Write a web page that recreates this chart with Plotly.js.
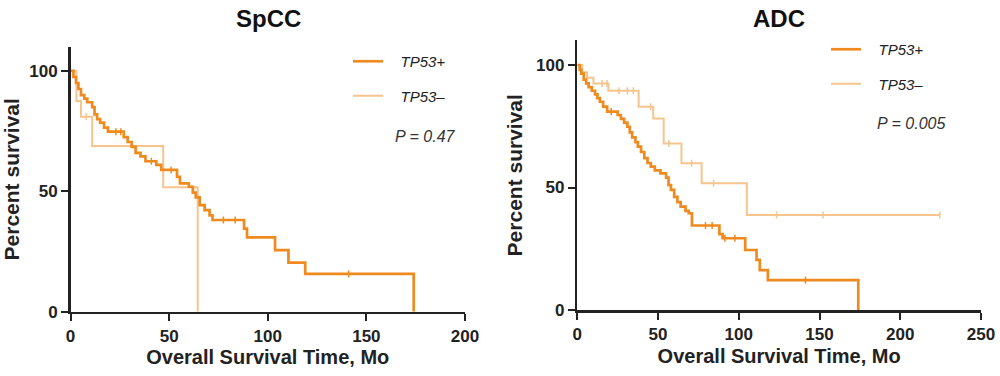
<!DOCTYPE html>
<html>
<head>
<meta charset="utf-8">
<script src="https://cdn.plot.ly/plotly-3.0.1.min.js"></script>
<style>html,body{margin:0;padding:0;background:#fff;}#chart{width:1000px;height:376px;}</style>
</head>
<body>
<div id="chart"></div>
<script>
// ---------- Data ----------
// SpCC, TP53+ : Kaplan-Meier step times (months) and survival (%)
var spccPosTime = [0, 1.5, 2.8, 4, 5.3, 7, 8.5, 11, 12.2, 13.5, 15, 17, 19, 27, 29, 31, 33, 35.5, 38, 43.5, 46, 54, 55.5, 60, 62, 63.5, 65.5, 68, 70.5, 72, 88, 89.5, 103.7, 110.5, 119, 174];
var spccPosSurv = [100, 97.5, 95, 92.5, 90, 88.5, 87, 85, 82, 80, 78.5, 76.5, 74.8, 72.5, 70.5, 68.5, 66, 64.5, 62.5, 61, 58.9, 56, 53.3, 51.9, 49.5, 47.5, 44.3, 42.2, 40, 38.1, 34.5, 30.9, 25.6, 20.4, 15.7, 0];
var spccPosCensTime = [23, 25.5, 41, 51, 77.5, 83.5, 141];
var spccPosCensSurv = [74.8, 74.8, 62.5, 58.9, 38.1, 38.1, 15.7];

// SpCC, TP53-
var spccNegTime = [0, 3, 5.3, 11, 47, 64.5];
var spccNegSurv = [100, 87.5, 81, 68.8, 51.7, 0];
var spccNegCensTime = [8];
var spccNegCensSurv = [81];

// ADC, TP53+
var adcPosTime = [0, 1.5, 2.5, 4, 5.5, 7, 9, 11, 12.5, 14, 16, 18.5, 25, 27, 29, 31, 32.5, 34, 36, 37.5, 39.5, 41.5, 43.5, 45.5, 48, 51.5, 55, 56.5, 58, 60, 62, 64, 67, 69, 71, 88, 90, 104, 111, 113, 118, 174];
var adcPosSurv = [100, 98, 96.5, 94, 92.5, 91, 89.5, 88, 86.5, 85, 83, 81, 79.6, 78, 76.5, 74.8, 72.5, 70.5, 68.5, 66.7, 64.5, 62, 60, 58.5, 57, 55.8, 54, 51, 49, 46.2, 44, 42.2, 40.5, 39.5, 34.5, 31, 29.3, 24.5, 20.5, 16.3, 12.2, 0];
var adcPosCensTime = [21, 79.4, 83.5, 91.4, 97.6, 141.3];
var adcPosCensSurv = [81, 34.5, 34.5, 29.3, 29.3, 12.2];

// ADC, TP53-
var adcNegTime = [0, 3, 6, 10, 19.2, 38, 47, 53.5, 64.5, 77, 105, 224.5];
var adcNegSurv = [100, 97, 94.8, 92.5, 89.5, 83, 78.2, 68, 59.9, 51.7, 38.8, 38.8];
var adcNegCensTime = [15.3, 18.4, 25.8, 31, 34.7, 45.4, 56.7, 70.8, 84.4, 123.4, 152.2, 224.5];
var adcNegCensSurv = [92.5, 92.5, 89.5, 89.5, 89.5, 83, 68, 59.9, 51.7, 38.8, 38.8, 38.8];

var panelTitles = ['SpCC', 'ADC'];
var pValues = ['P = 0.47', 'P = 0.005'];
var groupNames = ['TP53+', 'TP53\u2013'];
var xTicksLeft = [0, 50, 100, 150, 200];
var xTicksRight = [0, 50, 100, 150, 200, 250];
var yTicks = [0, 50, 100];

// ---------- Style ----------
var DARK = '#EF8A1F';
var LIGHT = '#F6C48C';
var AXIS = '#222222';
var FONT = 'Liberation Sans, Arial, Helvetica, sans-serif';
var NB = '\u00a0\u00a0\u00a0';

function stepTrace(x, y, color, width, xa, ya, name, leg, grp, rank) {
  return {x: x, y: y, type: 'scatter', mode: 'lines', line: {shape: 'hv', color: color, width: width},
          xaxis: xa, yaxis: ya, name: NB + '<i>' + name + '</i>', legend: leg, legendgroup: grp,
          legendrank: rank, showlegend: true, hoverinfo: 'skip', cliponaxis: false};
}
function censTrace(x, y, color, xa, ya, grp, rank) {
  return {x: x, y: y, type: 'scatter', mode: 'markers',
          marker: {symbol: 'line-ns-open', size: 5, color: color, line: {color: color, width: 1.5}},
          xaxis: xa, yaxis: ya, showlegend: false, legendgroup: grp, legendrank: rank,
          hoverinfo: 'skip', cliponaxis: false};
}

// light curves first so the dark curves are drawn on top
var data = [
  stepTrace(spccNegTime, spccNegSurv, LIGHT, 2, 'x', 'y', groupNames[1], 'legend', 'a2', 2),
  censTrace(spccNegCensTime, spccNegCensSurv, LIGHT, 'x', 'y', 'a2', 2),
  stepTrace(spccPosTime, spccPosSurv, DARK, 2.7, 'x', 'y', groupNames[0], 'legend', 'a1', 1),
  censTrace(spccPosCensTime, spccPosCensSurv, DARK, 'x', 'y', 'a1', 1),
  stepTrace(adcNegTime, adcNegSurv, LIGHT, 2, 'x2', 'y2', groupNames[1], 'legend2', 'b2', 2),
  censTrace(adcNegCensTime, adcNegCensSurv, LIGHT, 'x2', 'y2', 'b2', 2),
  stepTrace(adcPosTime, adcPosSurv, DARK, 2.7, 'x2', 'y2', groupNames[0], 'legend2', 'b1', 1),
  censTrace(adcPosCensTime, adcPosCensSurv, DARK, 'x2', 'y2', 'b1', 1)
];

function xAxis(domain, range, ticks, anchor) {
  return {domain: domain, range: range, tickvals: ticks, anchor: anchor,
          ticks: 'outside', ticklen: 7, tickwidth: 2, tickcolor: AXIS,
          showline: true, linewidth: 2.5, linecolor: AXIS, showgrid: false, zeroline: false,
          tickfont: {family: FONT, size: 17, weight: 700, color: AXIS},
          title: {text: 'Overall Survival Time, Mo', font: {family: FONT, size: 20, weight: 700, color: AXIS}, standoff: 6},
          automargin: false, fixedrange: true};
}
function yAxis(domain, anchor) {
  return {domain: domain, range: [0, 110], tickvals: yTicks, anchor: anchor,
          ticks: 'outside', ticklen: 7, tickwidth: 2, tickcolor: AXIS,
          showline: true, linewidth: 2.5, linecolor: AXIS, showgrid: false, zeroline: false,
          tickfont: {family: FONT, size: 17, weight: 700, color: AXIS},
          title: {text: 'Percent survival', font: {family: FONT, size: 21, weight: 700, color: AXIS}, standoff: 8},
          automargin: false, fixedrange: true};
}

var legendStyle = function (x, y) {
  return {x: x, y: y, xanchor: 'left', yanchor: 'top', bgcolor: 'rgba(0,0,0,0)', borderwidth: 0,
          font: {family: FONT, size: 15, color: AXIS}, itemwidth: 30, tracegroupgap: 12,
          traceorder: 'grouped'};
};

var layout = {
  width: 1000, height: 376,
  margin: {l: 0, r: 0, t: 0, b: 0},
  paper_bgcolor: '#ffffff', plot_bgcolor: '#ffffff',
  font: {family: FONT, color: AXIS},
  showlegend: true,
  xaxis: xAxis([0.0705, 0.465], [0, 200], xTicksLeft, 'y'),
  yaxis: yAxis([0.171, 0.8753], 'x'),
  xaxis2: xAxis([0.5773, 0.981], [0, 250], xTicksRight, 'y2'),
  yaxis2: yAxis([0.1755, 0.8923], 'x2'),
  legend: legendStyle(0.348, 1 - 45 / 376),
  legend2: legendStyle(0.826, 1 - 33 / 376),
  annotations: [
    {text: '<b>' + panelTitles[0] + '</b>', xref: 'paper', yref: 'paper', x: 0.268, y: 1 - 19 / 376,
     xanchor: 'center', yanchor: 'middle', showarrow: false, font: {family: FONT, size: 24, color: '#111'}},
    {text: '<b>' + panelTitles[1] + '</b>', xref: 'paper', yref: 'paper', x: 0.779, y: 1 - 19 / 376,
     xanchor: 'center', yanchor: 'middle', showarrow: false, font: {family: FONT, size: 24, color: '#111'}},
    {text: '<i>' + pValues[0] + '</i>', xref: 'paper', yref: 'paper', x: 0.425, y: 1 - 136 / 376,
     xanchor: 'center', yanchor: 'middle', showarrow: false, font: {family: FONT, size: 16, color: '#333'}},
    {text: '<i>' + pValues[1] + '</i>', xref: 'paper', yref: 'paper', x: 0.911, y: 1 - 124 / 376,
     xanchor: 'center', yanchor: 'middle', showarrow: false, font: {family: FONT, size: 16, color: '#333'}}
  ]
};

Plotly.newPlot('chart', data, layout, {staticPlot: true, displayModeBar: false});
</script>
</body>
</html>
